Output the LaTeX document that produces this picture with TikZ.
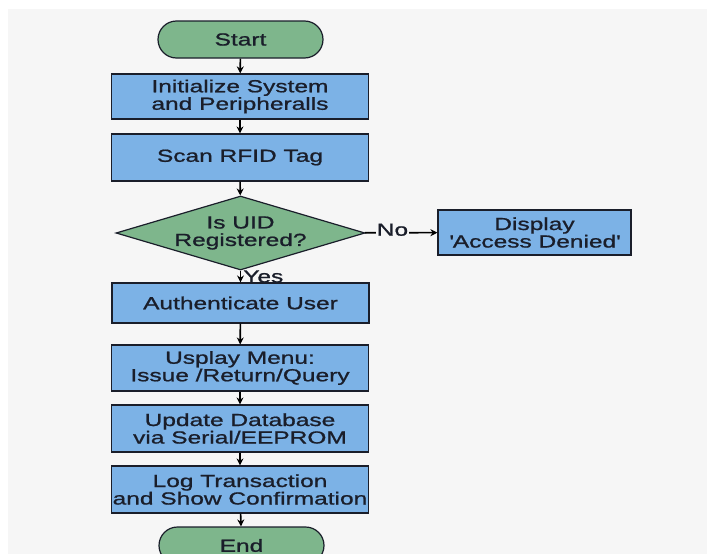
\documentclass[tikz,border=0pt]{standalone}
\usepackage{fontspec}
\setmainfont{Liberation Sans}[FakeStretch=1.4,FakeBold=1]
\usetikzlibrary{shapes.geometric,shapes.misc,arrows.meta}
\definecolor{boxblue}{RGB}{124,178,230}
\definecolor{termgreen}{RGB}{126,182,140}
\definecolor{bggray}{RGB}{246,246,246}
\definecolor{inkdark}{RGB}{26,30,42}
\begin{document}
\begin{tikzpicture}[x=1pt,y=-1pt,>={Stealth[length=7pt,width=7pt]},
	every node/.style={font=\fontsize{17.5}{17.5}\selectfont,text=inkdark,align=center},
	process/.style={draw=inkdark,line width=1.2pt,fill=boxblue,minimum width=257pt,minimum height=46pt,inner sep=0pt},
	terminal/.style={draw=inkdark,line width=1.2pt,fill=termgreen,rounded rectangle,minimum width=165pt,minimum height=37pt,inner sep=0pt},
	decision/.style={draw=inkdark,line width=1.2pt,fill=termgreen,diamond,aspect=3.3,minimum width=249pt,minimum height=74pt,inner sep=0pt},
	flow/.style={->,line width=1.6pt,draw=black}]
	% page and background
	\clip (0,0) rectangle (707,554);
	\fill[white] (0,0) rectangle (707,554);
	\fill[bggray] (8,9) rectangle (707,554);
	% main column
	\node[terminal] (start) at (240.5,39.5) {Start};
	\node[process,minimum height=45pt] (init) at (240,96.5) {Initialize System\\and Peripheralls};
	\node[process,minimum height=47pt] (scan) at (240,157.5) {Scan RFID Tag};
	\node[decision] (uid) at (240.5,233) {Is UID\\Registered?};
	\node[process,minimum height=40pt] (auth) at (240.5,303) {Authenticate User};
	\node[process] (menu) at (240,368) {Usplay Menu:\\Issue /Return/Query};
	\node[process,minimum height=47pt] (update) at (240,428.5) {Update Database\\via Serial/EEPROM};
	\node[process,minimum height=47pt] (logtx) at (240,489.5) {Log Transaction\\and Show Confirmation};
	\node[terminal] (stop) at (241.5,545.5) {End};
	% side branch
	\node[process,minimum width=193pt,minimum height=45pt] (deny) at (534.5,232.5) {Display\\\textquotesingle Access Denied\textquotesingle};
	% connectors
	\draw[flow] (start) -- (init);
	\draw[flow] (init) -- (scan);
	\draw[flow] (scan) -- (uid);
	\draw[flow] (uid) -- node[right,inner sep=1pt,xshift=1pt] {Yes} (auth);
	\draw[flow] (uid) -- node[pos=0.38,fill=bggray,inner sep=0.5pt,yshift=3pt] {No} (deny);
	\draw[flow] (auth) -- (menu);
	\draw[flow] (menu) -- (update);
	\draw[flow] (update) -- (logtx);
	\draw[flow] (logtx) -- (stop);
\end{tikzpicture}
\end{document}
